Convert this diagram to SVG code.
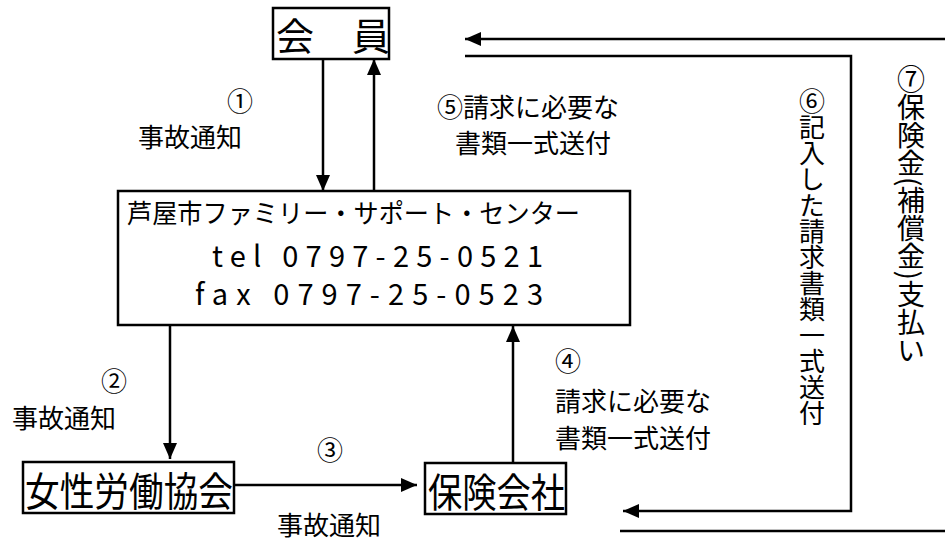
<svg xmlns="http://www.w3.org/2000/svg" width="945" height="543" viewBox="0 0 945 543">
<style>
text{font-family:"Noto Sans CJK JP","Noto Sans",sans-serif;fill:#000}
.lbl{font-size:26px}
.box{fill:#fff;stroke:#000;stroke-width:2.5}
.ln{fill:none;stroke:#000;stroke-width:2.5}
.vt{writing-mode:vertical-rl}
</style>
<defs>
<marker id="ah" markerUnits="userSpaceOnUse" markerWidth="16" markerHeight="14" refX="16" refY="7" orient="auto">
<path d="M0,0 L16,7 L0,14 z" fill="#000"/>
</marker>
</defs>
<rect width="945" height="543" fill="#fff"/>
<g id="connectors">
<line class="ln" x1="323" y1="59" x2="323" y2="191" marker-end="url(#ah)"/>
<line class="ln" x1="374" y1="191" x2="374" y2="59" marker-end="url(#ah)"/>
<line class="ln" x1="170" y1="325" x2="170" y2="459" marker-end="url(#ah)"/>
<line class="ln" x1="234" y1="485" x2="417" y2="485" marker-end="url(#ah)"/>
<line class="ln" x1="513" y1="463" x2="513" y2="326" marker-end="url(#ah)"/>
<line class="ln" x1="945" y1="39" x2="465" y2="39" marker-end="url(#ah)"/>
<polyline class="ln" points="465,56 851,56 851,511 623,511" marker-end="url(#ah)"/>
<line class="ln" x1="620" y1="531" x2="945" y2="531"/>
</g>
<g id="member">
<rect class="box" x="273" y="8" width="116" height="51"/>
<text style="font-size:38px" y="50"><tspan x="276">会</tspan><tspan x="352">員</tspan></text>
</g>
<g id="center">
<rect class="box" x="118" y="191" width="512" height="134"/>
<text style="font-size:26px" x="127" y="223" textLength="453" lengthAdjust="spacingAndGlyphs">芦屋市ファミリー・サポート・センター</text>
<text style="font-size:29px" x="212" y="267" textLength="331">tel 0797-25-0521</text>
<text style="font-size:29px" x="195" y="305" textLength="348">fax 0797-25-0523</text>
</g>
<g id="association">
<rect class="box" x="23" y="462" width="211" height="51"/>
<text style="font-size:40px" x="25" y="506" textLength="208" lengthAdjust="spacingAndGlyphs">女性労働協会</text>
</g>
<g id="insurer">
<rect class="box" x="425" y="463" width="141" height="51"/>
<text style="font-size:40px" x="428" y="507" textLength="137" lengthAdjust="spacingAndGlyphs">保険会社</text>
</g>
<g id="labels">
<text class="lbl" x="240" y="111" text-anchor="middle">①</text>
<text class="lbl" x="190" y="147" text-anchor="middle">事故通知</text>
<text class="lbl" x="114" y="391" text-anchor="middle">②</text>
<text class="lbl" x="12" y="428">事故通知</text>
<text class="lbl" x="330" y="460" text-anchor="middle">③</text>
<text class="lbl" x="277" y="535">事故通知</text>
<text class="lbl" x="555" y="371">④</text>
<text class="lbl" x="555" y="411">請求に必要な</text>
<text class="lbl" x="555" y="448">書類一式送付</text>
<text class="lbl" x="437" y="117">⑤請求に必要な</text>
<text class="lbl" x="455" y="153">書類一式送付</text>
<text class="vt" style="font-size:26px" x="812" y="88">⑥記入した請求書類一式送付</text>
<text class="vt" style="font-size:28px" x="911" y="65">⑦保険金(補償金)支払い</text>
</g>
</svg>
